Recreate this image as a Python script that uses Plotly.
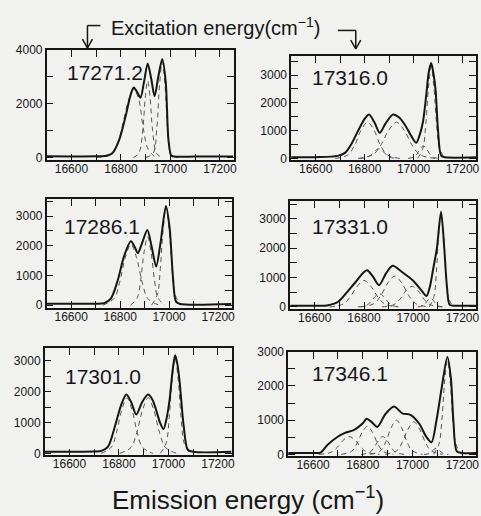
import plotly.graph_objects as go

# ---------------- data ----------------
EXCITATION = ["17271.2", "17316.0", "17286.1", "17331.0", "17301.0", "17346.1"]

# 17271.2
P1_X = [16500, 16600, 16700, 16740, 16765, 16792, 16819, 16839, 16852, 16866, 16879, 16894, 16908,
        16922, 16936, 16951, 16967, 16981, 16992, 17003, 17015, 17100, 17255]
P1_Y = [40, 35, 40, 60, 150, 630, 1540, 2330, 2600, 2420, 2220, 2850, 3500,
        2950, 2280, 3000, 3660, 2800, 650, 70, 30, 30, 30]
P1_CX = [[16700, 16760, 16785, 16805, 16830, 16852, 16872, 16890, 16910, 16940],
         [16850, 16872, 16888, 16898, 16908, 16918, 16928, 16944, 16966],
         [16900, 16930, 16945, 16956, 16967, 16978, 16990, 17003, 17030]]
P1_CY = [[0, 100, 450, 1150, 2100, 2550, 2150, 1100, 300, 0],
         [0, 150, 1000, 2200, 2850, 2200, 1000, 150, 0],
         [0, 150, 1100, 2700, 3550, 2700, 900, 100, 0]]

# 17316.0
P2_X = [16500, 16600, 16690, 16720, 16746, 16773, 16800, 16818, 16840, 16862, 16885, 16916, 16940,
        16965, 16991, 17011, 17024, 17038, 17052, 17062, 17072, 17082, 17090, 17100, 17113, 17130, 17255]
P2_Y = [40, 45, 90, 200, 520, 990, 1420, 1580, 1300, 920, 1250, 1580, 1480,
        1200, 800, 560, 820, 1300, 2300, 3100, 3430, 3000, 2450, 1000, 90, 40, 40]
P2_CX = [[16680, 16730, 16760, 16785, 16812, 16839, 16864, 16894, 16944],
         [16773, 16835, 16867, 16898, 16930, 16962, 16993, 17025, 17087],
         [16780, 16812, 16827, 16843, 16858, 16873, 16889, 16904, 16936],
         [16977, 17002, 17015, 17027, 17040, 17053, 17065, 17078, 17103],
         [17016, 17038, 17050, 17061, 17072, 17083, 17094, 17106, 17128]]
P2_CY = [[0, 120, 480, 1010, 1300, 1010, 480, 120, 0],
         [0, 140, 490, 1010, 1300, 1010, 490, 140, 0],
         [0, 40, 130, 270, 350, 270, 130, 40, 0],
         [0, 50, 170, 350, 450, 350, 170, 50, 0],
         [0, 360, 1240, 2570, 3300, 2570, 1240, 360, 0]]

# 17286.1
P3_X = [16500, 16600, 16700, 16735, 16762, 16790, 16816, 16844, 16860, 16872, 16890, 16911, 16928,
        16947, 16965, 16987, 17002, 17016, 17028, 17045, 17255]
P3_Y = [50, 45, 50, 70, 220, 830, 1650, 2150, 1950, 1750, 2100, 2530, 2000,
        1300, 2100, 3340, 2600, 900, 120, 40, 40]
P3_CX = [[16729, 16775, 16798, 16821, 16844, 16867, 16890, 16913, 16959],
         [16842, 16870, 16884, 16898, 16912, 16926, 16940, 16954, 16982],
         [16928, 16952, 16964, 16976, 16988, 17000, 17012, 17024, 17048]]
P3_CY = [[0, 225, 770, 1600, 2050, 1600, 770, 225, 0],
         [0, 250, 860, 1800, 2300, 1800, 860, 250, 0],
         [0, 360, 1240, 2570, 3300, 2570, 1240, 360, 0]]

# 17331.0
P4_X = [16500, 16600, 16650, 16695, 16737, 16771, 16795, 16812, 16835, 16861, 16890, 16916, 16957,
        16999, 17033, 17054, 17068, 17080, 17096, 17113, 17126, 17137, 17148, 17170, 17255]
P4_Y = [40, 40, 50, 175, 566, 900, 1150, 1250, 1050, 740, 1150, 1400, 1175,
        900, 566, 370, 700, 1250, 2000, 3250, 2010, 680, 70, 40, 40]
P4_CX = [[16660, 16716, 16744, 16772, 16800, 16828, 16856, 16884, 16940],
         [16775, 16810, 16827, 16845, 16862, 16880, 16897, 16914, 16950],
         [16785, 16841, 16869, 16897, 16925, 16953, 16981, 17009, 17065],
         [16873, 16921, 16946, 16970, 16995, 17020, 17044, 17068, 17117],
         [17065, 17084, 17094, 17103, 17113, 17123, 17132, 17142, 17161],
         [17018, 17039, 17049, 17060, 17070, 17080, 17091, 17101, 17122]]
P4_CY = [[0, 100, 340, 700, 900, 700, 340, 100, 0],
         [0, 50, 170, 350, 450, 350, 170, 50, 0],
         [0, 115, 395, 820, 1050, 820, 395, 115, 0],
         [0, 77, 262, 546, 700, 546, 262, 77, 0],
         [0, 350, 1180, 2460, 3150, 2460, 1180, 350, 0],
         [0, 33, 113, 234, 300, 234, 113, 33, 0]]

# 17301.0
P5_X = [16500, 16600, 16700, 16729, 16756, 16783, 16810, 16830, 16850, 16870, 16893, 16917, 16935,
        16951, 16966, 16980, 16993, 17004, 17018, 17027, 17036, 17045, 17062, 17078, 17100, 17255]
P5_Y = [55, 55, 60, 80, 220, 855, 1595, 1910, 1650, 1260, 1650, 1910, 1750,
        1385, 1000, 790, 1150, 1700, 2760, 3180, 2900, 2335, 855, 120, 50, 50]
P5_CX = [[16727, 16769, 16790, 16811, 16832, 16853, 16874, 16895, 16937],
         [16803, 16849, 16872, 16895, 16918, 16941, 16964, 16987, 17033],
         [16967, 16991, 17003, 17015, 17027, 17039, 17051, 17063, 17087]]
P5_CY = [[0, 200, 675, 1400, 1800, 1400, 675, 200, 0],
         [0, 200, 675, 1400, 1800, 1400, 675, 200, 0],
         [0, 340, 1160, 2420, 3100, 2420, 1160, 340, 0]]

# 17346.1
P6_X = [16500, 16600, 16630, 16658, 16699, 16726, 16767, 16801, 16815, 16835, 16858, 16891, 16925,
        16959, 16993, 17027, 17055, 17076, 17096, 17117, 17140, 17154, 17164, 17178, 17200, 17255]
P6_Y = [40, 40, 50, 277, 515, 620, 725, 915, 1040, 950, 800, 1180, 1400,
        1200, 1150, 895, 515, 350, 990, 1945, 2850, 2230, 990, 85, 40, 40]
P6_CX = [[16623, 16671, 16696, 16720, 16745, 16770, 16794, 16818, 16867],
         [16713, 16755, 16776, 16797, 16818, 16839, 16860, 16881, 16923],
         [16793, 16828, 16845, 16863, 16880, 16898, 16915, 16932, 16967],
         [16830, 16872, 16893, 16914, 16935, 16956, 16977, 16998, 17040],
         [16890, 16936, 16959, 16982, 17005, 17028, 17051, 17074, 17120],
         [17084, 17106, 17118, 17129, 17140, 17151, 17162, 17174, 17196],
         [17046, 17066, 17075, 17085, 17095, 17105, 17115, 17124, 17144]]
P6_CY = [[0, 57, 195, 405, 520, 405, 195, 57, 0],
         [0, 90, 308, 640, 820, 640, 308, 90, 0],
         [0, 57, 195, 405, 520, 405, 195, 57, 0],
         [0, 110, 375, 780, 1000, 780, 375, 110, 0],
         [0, 105, 356, 740, 950, 740, 356, 105, 0],
         [0, 300, 1030, 2145, 2750, 2145, 1030, 300, 0],
         [0, 20, 68, 140, 180, 140, 68, 20, 0]]

X_TICKS = [16600, 16800, 17000, 17200]
X_TICK_TEXT = ["16600", "16800", "17000", "17200"]

# ---------------- layout helpers ----------------
W, H = 481, 516
BG = "#f1f1ef"
INK = "#161616"
FONT = "Liberation Sans, Arial, Helvetica, sans-serif"


def fx(px):
    return px / W


def fy(py):
    return 1 - py / H


# panel boxes in pixels: (left, top, right, bottom), y range, y label step
panels = [
    dict(box=(47, 44, 235, 157), yr=(-110, 4000), dt=2000, mdt=1000,
         sx=P1_X, sy=P1_Y, cx=P1_CX, cy=P1_CY, lab=EXCITATION[0], lx=65, ly=67),
    dict(box=(293, 50, 479, 157), yr=(-70, 3690), dt=1000, mdt=500,
         sx=P2_X, sy=P2_Y, cx=P2_CX, cy=P2_CY, lab=EXCITATION[1], lx=312, ly=72),
    dict(box=(47, 197, 233, 308), yr=(-90, 3560), dt=1000, mdt=500,
         sx=P3_X, sy=P3_Y, cx=P3_CX, cy=P3_CY, lab=EXCITATION[2], lx=62, ly=225),
    dict(box=(292, 199, 479, 309), yr=(-66, 3600), dt=1000, mdt=500,
         sx=P4_X, sy=P4_Y, cx=P4_CX, cy=P4_CY, lab=EXCITATION[3], lx=312, ly=225),
    dict(box=(45, 349, 233, 459), yr=(-63, 3420), dt=1000, mdt=500,
         sx=P5_X, sy=P5_Y, cx=P5_CX, cy=P5_CY, lab=EXCITATION[4], lx=63, ly=378),
    dict(box=(290, 353, 479, 460), yr=(-57, 3000), dt=1000, mdt=500,
         sx=P6_X, sy=P6_Y, cx=P6_CX, cy=P6_CY, lab=EXCITATION[5], lx=312, ly=375),
]

fig = go.Figure()
layout = dict(
    width=W, height=H, margin=dict(l=0, r=0, t=0, b=0),
    paper_bgcolor=BG, plot_bgcolor=BG, showlegend=False,
    font=dict(family=FONT, color=INK, size=12),
)
annotations = []

for i, p in enumerate(panels, start=1):
    xa = "x" if i == 1 else f"x{i}"
    ya = "y" if i == 1 else f"y{i}"
    l, t, r, b = p["box"]
    axis_common = dict(
        showline=True, linecolor=INK, linewidth=1.5, mirror="ticks",
        ticks="inside", ticklen=7, tickwidth=1.2, tickcolor=INK,
        showgrid=False, zeroline=False,
        tickfont=dict(family=FONT, size=12, color=INK),
    )
    layout[f"xaxis{'' if i == 1 else i}"] = dict(
        domain=[fx(l), fx(r)], range=[16500, 17255], anchor=ya,
        tickmode="array", tickvals=X_TICKS, ticktext=X_TICK_TEXT,
        ticklabelstandoff=-3,
        minor=dict(dtick=100, tick0=16500, ticks="inside", ticklen=7,
                   tickwidth=1.2, tickcolor=INK),
        **axis_common,
    )
    layout[f"yaxis{'' if i == 1 else i}"] = dict(
        domain=[fy(b), fy(t)], range=list(p["yr"]), anchor=xa,
        tick0=0, dtick=p["dt"], tickformat="d",
        minor=dict(dtick=p["mdt"], tick0=0, ticks="inside", ticklen=7,
                   tickwidth=1.2, tickcolor=INK),
        **axis_common,
    )
    # fitted components
    for cx, cy in zip(p["cx"], p["cy"]):
        fig.add_trace(go.Scatter(
            x=cx, y=cy, mode="lines", xaxis=xa, yaxis=ya,
            line=dict(color="#555555", width=1, dash="5px,4px", shape="spline"),
            hoverinfo="skip",
        ))
    # measured spectrum
    fig.add_trace(go.Scatter(
        x=p["sx"], y=p["sy"], mode="lines", xaxis=xa, yaxis=ya,
        line=dict(color=INK, width=2, shape="spline", smoothing=0.8),
    ))
    annotations.append(dict(
        text=p["lab"], x=fx(p["lx"]), y=fy(p["ly"]), xref="paper", yref="paper",
        xanchor="left", yanchor="middle", showarrow=False,
        font=dict(family=FONT, size=21, color=INK),
    ))

annotations.append(dict(
    text="Excitation energy(cm<sup>\u22121</sup>)", x=fx(217), y=fy(20),
    xref="paper", yref="paper", xanchor="center", yanchor="middle",
    showarrow=False, font=dict(family=FONT, size=20, color=INK),
))
annotations.append(dict(
    text="Emission energy (cm<sup>\u22121</sup>)", x=fx(250), y=fy(503),
    xref="paper", yref="paper", xanchor="center", yanchor="middle",
    showarrow=False, font=dict(family=FONT, size=26, color=INK),
))

# bracket arrows pointing to the excitation labels
segs = [
    ((101, 19), (88, 19)), ((88, 19), (88, 42)), ((83, 33), (88, 42)), ((93, 33), (88, 42)),
    ((340, 24), (358, 24)), ((358, 24), (358, 43)), ((353, 34), (358, 43)), ((363, 34), (358, 43)),
]
shapes = [
    dict(type="line", xref="paper", yref="paper",
         x0=fx(a[0]), y0=fy(a[1]), x1=fx(c[0]), y1=fy(c[1]),
         line=dict(color=INK, width=1.5))
    for a, c in segs
]

layout["annotations"] = annotations
layout["shapes"] = shapes
fig.update_layout(**layout)

fig.write_html("out.html")
